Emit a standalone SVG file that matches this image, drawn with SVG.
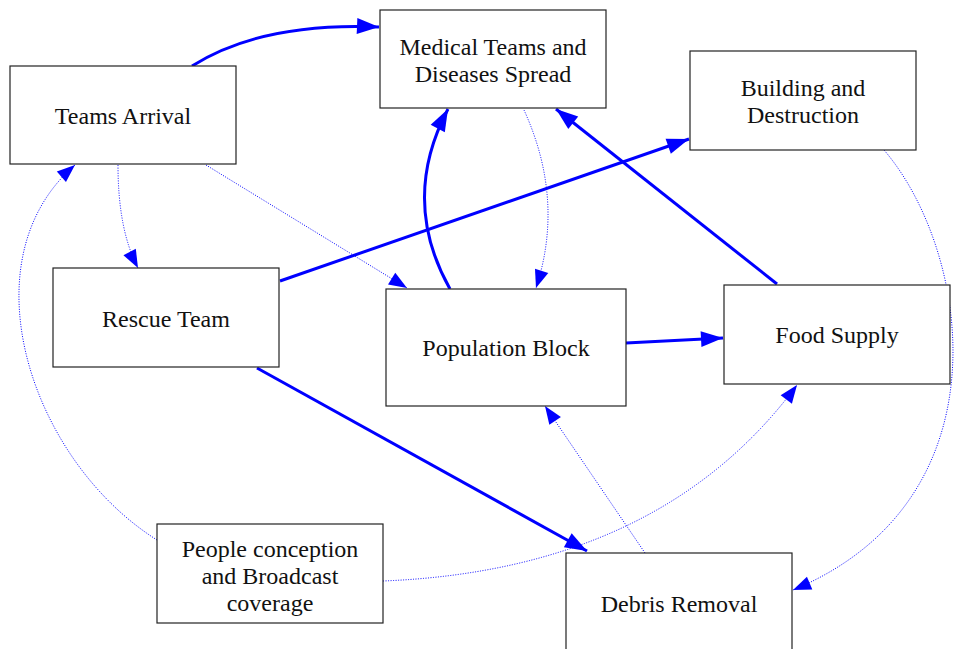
<svg xmlns="http://www.w3.org/2000/svg" width="958" height="649" viewBox="0 0 958 649">
  <style>
    .box { fill: #ffffff; stroke: #222; stroke-width: 1.2; }
    .lbl { font-family: "Liberation Serif", "Times New Roman", serif; font-size: 24px; fill: #111; text-anchor: middle; }
    .strong { fill: none; stroke: #0000ff; stroke-width: 3; }
    .weak { fill: none; stroke: #0000ff; stroke-width: 1; stroke-dasharray: 1 1.5; }
  </style>
  <defs>
    <marker id="headStrong" markerUnits="userSpaceOnUse" markerWidth="26" markerHeight="20" refX="24" refY="10" orient="auto">
      <path d="M2,2 L24,10 L2,18 Z" fill="#0000ff"/>
    </marker>
    <marker id="headWeak" markerUnits="userSpaceOnUse" markerWidth="22" markerHeight="18" refX="20" refY="9" orient="auto">
      <path d="M2,2 L20,9 L2,16 Z" fill="#0000ff"/>
    </marker>
  </defs>

  <g id="connectors">
    <!-- strong influences -->
    <path class="strong" d="M192,66 Q262,22 379,27" marker-end="url(#headStrong)"/>
    <path class="strong" d="M280,281 L689,139" marker-end="url(#headStrong)"/>
    <path class="strong" d="M257,368 L587,551" marker-end="url(#headStrong)"/>
    <path class="strong" d="M450,289 Q400,200 448,109" marker-end="url(#headStrong)"/>
    <path class="strong" d="M777,284 L556,109" marker-end="url(#headStrong)"/>
    <path class="strong" d="M626,343 L723,338" marker-end="url(#headStrong)"/>
    <!-- weak influences -->
    <path class="weak" d="M118,165 Q118,230 138,268" marker-end="url(#headWeak)"/>
    <path class="weak" d="M206,165 L407,288" marker-end="url(#headWeak)"/>
    <path class="weak" d="M157,540 C30,460 -35,260 75,165" marker-end="url(#headWeak)"/>
    <path class="weak" d="M524,110 Q565,200 536,288" marker-end="url(#headWeak)"/>
    <path class="weak" d="M884,150 C970,250 1010,500 793,590" marker-end="url(#headWeak)"/>
    <path class="weak" d="M645,553 L545,406" marker-end="url(#headWeak)"/>
    <path class="weak" d="M383,581 Q660,570 797,385" marker-end="url(#headWeak)"/>
  </g>

  <g id="medical">
    <rect class="box" x="380" y="10" width="226" height="98"/>
    <text class="lbl" x="493" y="55">Medical Teams and</text>
    <text class="lbl" x="493" y="82">Diseases Spread</text>
  </g>
  <g id="teams-arrival">
    <rect class="box" x="10" y="66" width="226" height="98"/>
    <text class="lbl" x="123" y="124">Teams Arrival</text>
  </g>
  <g id="building">
    <rect class="box" x="690" y="51" width="226" height="99"/>
    <text class="lbl" x="803" y="96">Building and</text>
    <text class="lbl" x="803" y="123">Destruction</text>
  </g>
  <g id="rescue-team">
    <rect class="box" x="53" y="268" width="226" height="99"/>
    <text class="lbl" x="166" y="327">Rescue Team</text>
  </g>
  <g id="population-block">
    <rect class="box" x="386" y="289" width="240" height="117"/>
    <text class="lbl" x="506" y="356">Population Block</text>
  </g>
  <g id="food-supply">
    <rect class="box" x="724" y="285" width="226" height="99"/>
    <text class="lbl" x="837" y="343">Food Supply</text>
  </g>
  <g id="people-conception">
    <rect class="box" x="157" y="524" width="226" height="99"/>
    <text class="lbl" x="270" y="557">People conception</text>
    <text class="lbl" x="270" y="584">and Broadcast</text>
    <text class="lbl" x="270" y="611">coverage</text>
  </g>
  <g id="debris-removal">
    <rect class="box" x="566" y="553" width="226" height="100"/>
    <text class="lbl" x="679" y="612">Debris Removal</text>
  </g>
</svg>
